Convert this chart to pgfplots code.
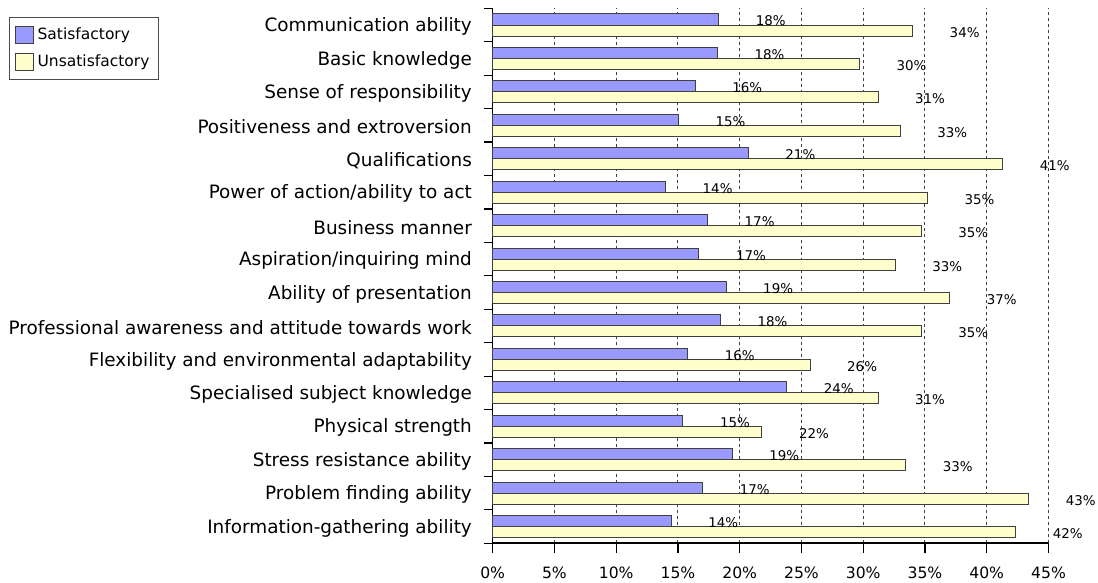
\documentclass[border=0pt]{standalone}
\usepackage{fontspec}
\setmainfont{DejaVu Sans}
\usepackage{pgfplots}
\pgfplotsset{compat=1.18}
\usepackage{pgfplotstable}

\definecolor{satblue}{HTML}{9999FF}
\definecolor{unsatyellow}{HTML}{FFFFCC}
\definecolor{edge}{HTML}{404040}

% y: 15 = top category, 0 = bottom category
\pgfplotstableread{
y  sat    unsat
15 18.3   34.0
14 18.2   29.7
13 16.4   31.2
12 15.05  33.0
11 20.7   41.3
10 14.0   35.2
9  17.4   34.7
8  16.7   32.6
7  18.9   37.0
6  18.45  34.7
5  15.8   25.7
4  23.8   31.2
3  15.4   21.8
2  19.4   33.45
1  17.0   43.4
0  14.45  42.35
}\skills

\begin{document}
\begin{tikzpicture}
\path[use as bounding box] (-246.35pt,-19.85pt) rectangle (302.65pt,271.65pt);
\begin{axis}[
    scale only axis,
    width=277.9pt, height=267.5pt,
    xbar, bar width=0.33,
    xmin=0, xmax=45, ymin=-0.5, ymax=15.5,
    clip=false,
    /pgf/number format/assume math mode=true,
    xtick={0,5,...,45},
    xticklabel={\pgfmathprintnumber{\tick}\%},
    xticklabel style={font=\fontsize{7.8}{9}\selectfont, yshift=-3.5pt},
    ytick={0,...,15},
    yticklabels={Information-gathering ability, Problem finding ability,
        Stress resistance ability, Physical strength,
        Specialised subject knowledge, Flexibility and environmental adaptability,
        Professional awareness and attitude towards work, Ability of presentation,
        Aspiration/inquiring mind, Business manner, Power of action/ability to act,
        Qualifications, Positiveness and extroversion, Sense of responsibility,
        Basic knowledge, Communication ability},
    yticklabel style={font=\fontsize{9.2}{11}\selectfont, xshift=-1.9pt, yshift=-0.8pt},
    minor ytick={-0.5,0.5,...,15.5},
    major y tick style={draw=none},
    tick align=outside,
    major tick length=5pt, minor tick length=4.5pt,
    tick style={black, line width=0.6pt},
    axis x line*=bottom, axis y line*=left,
    axis line style={-, black, line width=0.8pt},
    xmajorgrids,
    grid style={black!75, dash pattern=on 1.5pt off 1.5pt, line width=0.5pt},
    point meta=x,
    nodes near coords={\pgfmathprintnumber[fixed,precision=0]{\pgfplotspointmeta}\%},
    nodes near coords style={font=\fontsize{6.7}{8}\selectfont, anchor=center,
        xshift=26pt, yshift=-0.8pt, text=black},
    legend style={at={(-0.870,0.984)}, anchor=north west, draw=black!70,
        line width=0.5pt, font=\fontsize{7.75}{9}\selectfont,
        inner xsep=2.5pt, inner ysep=3pt, row sep=2.2pt, cells={anchor=west}},
    legend image code/.code={\draw[#1] (0pt,-4.25pt) rectangle (9pt,4.25pt);},
]
\addplot[fill=satblue, draw=edge, line width=0.5pt, bar shift=0.165]
    table[x=sat, y=y] {\skills};
\addplot[fill=unsatyellow, draw=edge, line width=0.5pt, bar shift=-0.165]
    table[x=unsat, y=y] {\skills};
\legend{Satisfactory, Unsatisfactory}
\end{axis}
\end{tikzpicture}
\end{document}
